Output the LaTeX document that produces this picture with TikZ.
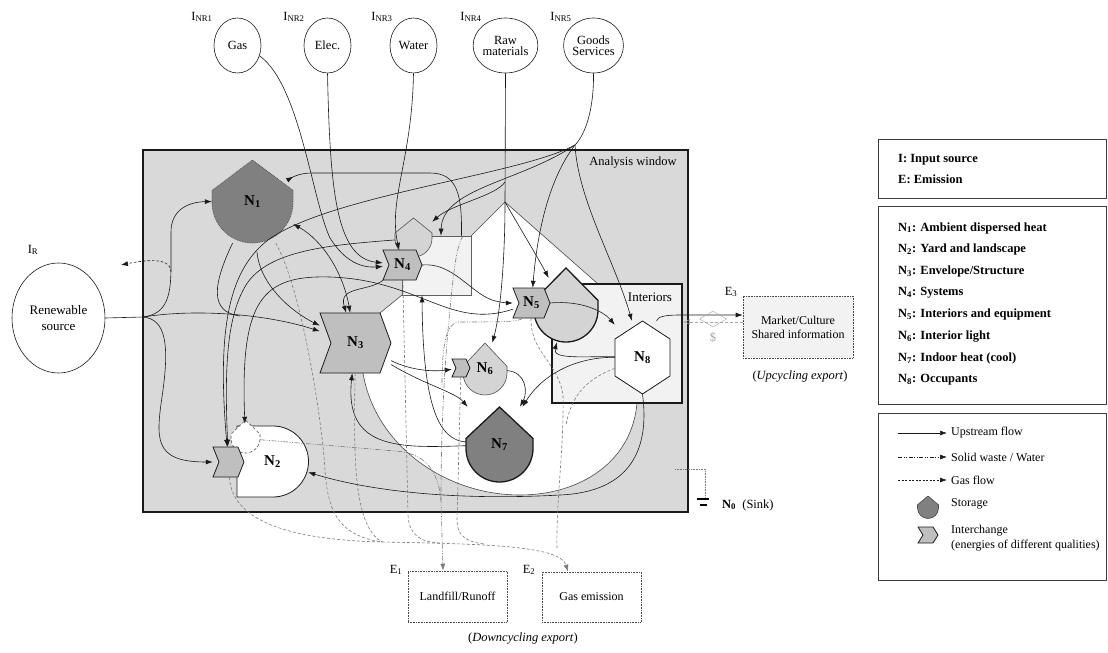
\documentclass[tikz,border=0pt]{standalone}
\usepackage{fontspec}
\setmainfont{Liberation Serif}
\usetikzlibrary{arrows.meta,shapes.geometric}
\definecolor{ink}{HTML}{1A1A1A}
\definecolor{windowfill}{HTML}{D9D9D9}
\definecolor{palefill}{HTML}{F2F2F2}
\definecolor{darkfill}{HTML}{808080}
\definecolor{chevfill}{HTML}{BFBFBF}
\definecolor{storefill}{HTML}{D4D4D4}
\definecolor{dashgray}{HTML}{7A7A7A}
\definecolor{cashgray}{HTML}{A6A6A6}
% storage: cx, cy (centre of the round bottom), radius, apex y
\newcommand{\storage}[5][]{%
  \draw[#1] (#2-#4,#3) -- (#2-#4,#3-0.3*#4) -- (#2,#5) -- (#2+#4,#3-0.3*#4) -- (#2+#4,#3)
    arc[start angle=0, end angle=180, radius=#4] -- cycle;}
% interchange: cx, cy, width, height, notch
\newcommand{\interchange}[6][]{%
  \draw[#1] (#2-#4/2,#3-#5/2) -- (#2+#4/2-#6,#3-#5/2) -- (#2+#4/2,#3) -- (#2+#4/2-#6,#3+#5/2)
    -- (#2-#4/2,#3+#5/2) -- (#2-#4/2+#6,#3) -- cycle;}
\tikzset{
  flow/.style={draw=ink, line width=0.6pt, -{Latex[length=7pt,width=5pt]}},
  twoway/.style={draw=ink, line width=0.6pt, {Latex[length=7pt,width=5pt]}-{Latex[length=7pt,width=5pt]}},
  link/.style={draw=ink, line width=0.6pt},
  gasout/.style={draw=ink, line width=0.6pt, dash pattern=on 2.5pt off 2pt, -{Latex[length=7pt,width=5pt]}},
  gasflow/.style={draw=dashgray, line width=0.6pt, dash pattern=on 3pt off 2pt},
  waste/.style={draw=dashgray, line width=0.6pt, dash pattern=on 5pt off 1.5pt on 1pt off 1.5pt on 1pt off 1.5pt},
  source/.style={ellipse, draw=ink, line width=0.6pt, fill=white, minimum width=47pt, minimum height=55pt, inner sep=0pt, align=center, font=\fontsize{12.5}{11}\selectfont},
  tag/.style={inner sep=0pt, font=\fontsize{12.5}{13}\selectfont},
  nlabel/.style={inner sep=0pt, font=\fontsize{15}{15}\selectfont\bfseries},
  lightstore/.style={fill=storefill, draw=ink!75, line width=0.6pt},
  chevron/.style={fill=chevfill, draw=ink, line width=0.8pt},
  exportbox/.style={draw=ink!80, densely dotted, line width=0.6pt, inner sep=0pt, align=center, font=\fontsize{12}{14}\selectfont},
  legendbox/.style={draw=ink!85, line width=0.7pt},
  legtext/.style={anchor=west, inner sep=0pt, font=\fontsize{12}{12}\selectfont},
  legbold/.style={legtext, font=\fontsize{12.5}{12.5}\selectfont\bfseries}
}

\begin{document}
\begin{tikzpicture}[x=1pt,y=-1pt]
\useasboundingbox (0,0) rectangle (1108,653);

% Analysis window
\draw[fill=windowfill, draw=ink, line width=1.2pt] (143,150) rectangle (688,512);
\node[tag] (awin) at (633,163) {Analysis window};
\coordinate (apex) at (505,202);
\draw[fill=white, draw=ink!80, line width=0.6pt] (380,313) -- (402,295) -- (471,295) -- (471,236) -- (apex) -- (598,284) -- (682,284) -- (682,403) -- (637,403)
  .. controls (632,462) and (580,495) .. (520,495) .. controls (445,495) and (375,445) .. (363,373) -- cycle;
\node[draw=ink!70, fill=palefill, line width=0.6pt, minimum width=69pt, minimum height=59pt, inner sep=0pt] (b4) at (436.5,265.5) {};
\node[draw=ink, fill=palefill, line width=2pt, minimum width=130pt, minimum height=119pt, inner sep=0pt] (ibox) at (617,343.5) {};
\node[tag, font=\fontsize{13}{13}\selectfont] (inter) at (650,297) {Interiors};

% Storages and interchanges
\storage[fill=darkfill, draw=ink!80, densely dotted, line width=0.7pt]{252.5}{202.5}{40.5}{160}
\draw[fill=white, draw=ink, line width=0.8pt] (237,426) -- (273,426) arc[start angle=-90, end angle=90, radius=35.5] -- (237,497) -- cycle;
\storage[fill=white, draw=ink!75, densely dashed, line width=0.6pt]{245.5}{438.5}{14.5}{420}
\interchange[chevron]{228.5}{462}{31}{30}{6}
\interchange[chevron]{355.5}{343}{71}{60}{11}
\storage[lightstore]{413.5}{238.5}{18.5}{218}
\interchange[chevron]{402.5}{265}{39}{30}{6}
\storage[fill=storefill, draw=ink, line width=1.3pt]{566}{310}{32}{268}
\interchange[chevron]{531.5}{303}{37}{30}{6}
\storage[lightstore]{485}{373}{22}{343}
\interchange[chevron]{461}{368}{18}{18}{4}
\storage[fill=darkfill, draw=ink, line width=1.3pt]{499.5}{448.5}{33.5}{407}
\draw[fill=white, draw=ink, line width=0.8pt] (642.5,321) -- (670,339) -- (670,376) -- (642.5,394) -- (615,376) -- (615,339) -- cycle;

\node[nlabel, minimum width=81pt, minimum height=83pt] (n1) at (252.5,201.5) {N\textsubscript{1}};
\node[nlabel, minimum width=71pt, minimum height=71pt] (n2) at (272.5,461.5) {N\textsubscript{2}};
\node[inner sep=0pt, minimum width=31pt, minimum height=30pt] (n2x) at (228.5,462) {};
\node[inner sep=0pt, minimum size=29pt] (s2) at (245.5,438.5) {};
\node[nlabel, minimum width=71pt, minimum height=60pt] (n3) at (355.5,343) {N\textsubscript{3}};
\node[nlabel, minimum width=39pt, minimum height=30pt] (n4) at (402.5,265) {N\textsubscript{4}};
\node[inner sep=0pt, minimum size=37pt] (s4) at (413.5,238.5) {};
\node[nlabel, minimum width=37pt, minimum height=30pt] (n5) at (531.5,303) {N\textsubscript{5}};
\node[inner sep=0pt, minimum size=64pt] (s5) at (566,310) {};
\node[nlabel, minimum width=44pt, minimum height=52pt] (n6) at (485,369) {N\textsubscript{6}};
\node[inner sep=0pt, minimum size=18pt] (n6x) at (461,368) {};
\node[nlabel, minimum width=67pt, minimum height=75pt] (n7) at (499.5,444.5) {N\textsubscript{7}};
\node[nlabel, minimum width=55pt, minimum height=73pt] (n8) at (642.5,357.5) {N\textsubscript{8}};

% Inputs
\node[source] (gas) at (237.5,45.5) {Gas};
\node[source] (elec) at (327.5,45.5) {Elec.};
\node[source] (water) at (413.5,45.5) {Water};
\node[source] (raw) at (505.5,45.5) {Raw\\materials};
\node[source] (goods) at (593.5,45.5) {Goods\\Services};
\node[tag] (inr1) at (202,17) {I\textsubscript{NR1}};
\node[tag] (inr2) at (294,17) {I\textsubscript{NR2}};
\node[tag] (inr3) at (382,17) {I\textsubscript{NR3}};
\node[tag] (inr4) at (471,17) {I\textsubscript{NR4}};
\node[tag] (inr5) at (561,17) {I\textsubscript{NR5}};
\node[source, minimum width=93pt, minimum height=110pt, font=\fontsize{13}{16}\selectfont] (rs) at (58.5,318) {Renewable\\source};
\node[tag] (ir) at (33,250) {I\textsubscript{R}};

% Exports
\node[exportbox, fill=palefill, minimum width=110pt, minimum height=62pt] (market) at (798,327) {Market/Culture\\Shared information};
\node[tag] (e3) at (731,292) {E\textsubscript{3}};
\node[tag] (upcyc) at (800,377) {(\textit{Upcycling export})};
\node[exportbox, fill=white, minimum width=99pt, minimum height=51pt] (landfill) at (457.5,596.5) {Landfill/Runoff};
\node[exportbox, fill=white, minimum width=99pt, minimum height=50pt] (gasem) at (591.5,597) {Gas emission};
\node[tag] (e1) at (396,570) {E\textsubscript{1}};
\node[tag] (e2) at (529,570) {E\textsubscript{2}};
\node[tag] (downcyc) at (523,639) {(\textit{Downcycling export})};

\coordinate (jr) at (143,317);
\coordinate (jr2) at (171,272);
\coordinate (irout) at (121,265);
\coordinate (m1) at (240,316);
\coordinate (jg) at (575,145);
\coordinate (gb) at (257,252);
\coordinate (r1) at (505,182);
\coordinate (ret) at (683,322);
\coordinate (gastrunk) at (382,542);
\coordinate (g4) at (440,543);
\coordinate (g6) at (485,544);
\coordinate (g5) at (557,548);
\coordinate (g8) at (566,425);
\coordinate (jwaste) at (441,500);
\coordinate (w3) at (442,385);

% Renewable flows
\draw[link] (rs.east) -- (jr);
\draw[flow] (jr) .. controls (167,314) and (171,296) .. (171,266) -- (171,232) .. controls (171,210) and (188,202) .. (n1.west);
\draw[flow] (jr) .. controls (166,319) and (169,345) .. (163,390) .. controls (156,438) and (152,462) .. ([shift={(-11,0)}]n2x);
\draw[flow] (jr) .. controls (200,308) and (270,315) .. ([shift={(-26,-3)}]n3);
\draw[gasout] (jr2) .. controls (171,262) and (160,257) .. (irout);
\draw[link] ([shift={(-22,34)}]n1) .. controls (214,282) and (208,312) .. (m1);
\draw[twoway] ([shift={(38,15)}]n1) .. controls (322,240) and (343,272) .. ([shift={(-12.5,-30)}]n3);

% Non-renewable flows
\draw[flow] (gas.-25) .. controls (300,85) and (312,200) .. (330,238) .. controls (345,262) and (362,268) .. ([shift={(-15,3)}]n4);
\draw[flow] (elec.south) .. controls (330,190) and (336,258) .. ([shift={(-16,-6)}]n4);
\draw[flow] (water.south) .. controls (412,160) and (388,200) .. ([shift={(-14,-15)}]n4);
\draw[link] (raw.south) -- (apex);
\draw[flow] (apex) .. controls (505,262) and (500,315) .. ([shift={(13,-13)}]n6);
\draw[flow] (r1) .. controls (496,196) and (452,204) .. ([shift={(12,-11)}]s4);
\draw[flow] (apex) .. controls (520,228) and (538,258) .. ([shift={(-13,-29)}]s5);
\draw[link] (goods.south) .. controls (594,110) and (585,135) .. (jg);
\draw[flow] (jg) .. controls (520,175) and (330,195) .. (268,240) .. controls (232,268) and (216,320) .. ([shift={(-12.5,-15)}]n2x);
\draw[flow] (gb) .. controls (260,285) and (292,312) .. ([shift={(-30.5,-14)}]n3);
\draw[flow] (jg) .. controls (520,182) and (442,188) .. ([shift={(4.5,0)}]b4.north);
\draw[flow] (jg) .. controls (548,180) and (537,235) .. ([shift={(5,-15)}]n5);
\draw[flow] (jg) .. controls (578,200) and (615,262) .. ([shift={(-8.5,-31)}]n8);

% Internal flows
\draw[flow] ([shift={(-18.5,0)}]s4) .. controls (330,245) and (268,250) .. (246,285) .. controls (228,315) and (224,360) .. ([shift={(-4.5,-15)}]n2x);
\draw[flow] ([shift={(-14,9)}]n5) .. controls (450,330) and (420,280) .. (330,277) .. controls (262,275) and (240,300) .. ([shift={(-6.5,-13.5)}]s2);
\draw[flow] ([shift={(25,0)}]b4.north) .. controls (462,196) and (458,173) .. (430,173) -- (312,173) .. controls (298,173) and (291,178) .. ([shift={(32,-18)}]n1);
\draw[flow] ([shift={(-12,12)}]n4) .. controls (368,292) and (338,286) .. ([shift={(-20,-30)}]n3);
\draw[flow] (n4.east) .. controls (452,262) and (470,292) .. (492,300) .. controls (502,303) and (510,303) .. ([shift={(-12.5,0)}]n5);
\draw[flow] (n5.east) .. controls (582,300) and (604,312) .. ([shift={(-27,-18)}]n8);
\draw[flow] ([shift={(32,10)}]n3) .. controls (410,370) and (432,372) .. ([shift={(-5,0)}]n6x);
\draw[flow] ([shift={(30,16)}]n3) .. controls (425,385) and (455,392) .. ([shift={(-22,-15)}]n7);
\draw[flow] ([shift={(22,3)}]n6) .. controls (526,372) and (528,392) .. ([shift={(13,-25)}]n7);
\draw[flow] ([shift={(-27.5,4)}]n8) .. controls (575,357) and (542,375) .. ([shift={(21,-19)}]n7);
\draw[flow] ([shift={(-27.5,1)}]n8) .. controls (585,356) and (552,360) .. ([shift={(-25,19)}]s5);
\draw[flow] ([shift={(-33,-3)}]n7) .. controls (440,440) and (423,410) .. ([shift={(-14.5,0)}]b4.south);
\draw[flow] ([shift={(-33,2)}]n7) .. controls (400,448) and (344,450) .. ([shift={(-12.5,30)}]n3);
\draw[flow] (n8.south) .. controls (650,450) and (630,492) .. (560,495) .. controls (470,500) and (380,494) .. ([shift={(29,21)}]n2);

% Upcycling export
\draw[flow] ([shift={(14,-27)}]n8) .. controls (658,317) and (663,315) .. (680,315) -- ([shift={(0,-12)}]market.west);
\draw[gasflow, draw=cashgray, -{Latex[open,length=7pt,width=6pt]}] ([shift={(0,-5)}]market.west) -- (ret);
\node[diamond, draw=cashgray, minimum width=27pt, minimum height=16pt, inner sep=0pt] (cash) at (713,319) {};
\node[tag, text=cashgray] (dollar) at (713,337) {\$};

% Gas flows
\draw[gasflow, -{Latex[length=7pt,width=5pt]}] ([shift={(-5.5,15)}]n2x) .. controls (232,525) and (300,540) .. (gastrunk) .. controls (480,544) and (560,545) .. ([shift={(-23.5,0)}]gasem.north);
\draw[gasflow] ([shift={(28.5,29.5)}]n1) .. controls (302,290) and (322,420) .. (325,470) .. controls (328,520) and (345,536) .. (gastrunk);
\draw[gasflow] ([shift={(-3,30)}]n3) .. controls (354,450) and (352,525) .. (gastrunk);
\draw[gasflow] ([shift={(5.5,15)}]n4) -- (408,515) .. controls (409,535) and (420,542) .. (g4);
\draw[gasflow] ([shift={(-4,9)}]n6x) -- (457,520) .. controls (457,535) and (465,542) .. (g6);
\draw[gasflow] ([shift={(-3,15)}]n5) .. controls (530,352) and (558,362) .. (563,395) .. controls (564,450) and (556,500) .. (g5);
\draw[gasflow] ([shift={(-27.5,14)}]n8) .. controls (590,378) and (572,392) .. (g8);

% Solid waste / water
\draw[waste, -{Latex[length=7pt,width=5pt]}] ([shift={(-3,-22)}]b4) .. controls (455,245) and (452,290) .. (448,330) .. controls (442,400) and (441,460) .. (jwaste) -- ([shift={(-14.5,0)}]landfill.north);
\draw[waste] ([shift={(12.5,10.5)}]s2) -- (395,451) .. controls (425,453) and (438,470) .. (jwaste);
\draw[waste] ([shift={(-7,15)}]n5) .. controls (520,322) and (500,322) .. (458,322) .. controls (446,324) and (442,345) .. (w3);

% Sink
\coordinate (sinkin) at (675,469);
\draw[densely dotted, draw=dashgray, line width=0.6pt] (sinkin) -- (705,469) -- (705,497);
\draw[line width=1.6pt] (697,499) -- (709,499);
\draw[line width=1.6pt] (700,505) -- (707,505);
\node[tag, anchor=west] (n0) at (722,505) {\textbf{N\textsubscript{0}}\ \ (Sink)};

% Legend
\draw[legendbox] (878,139) rectangle (1106,198);
\node[legbold] (li) at (898,160) {I: Input source};
\node[legbold] (le) at (898,179) {E: Emission};
\draw[legendbox] (878,206) rectangle (1106,404);
\foreach \k/\txt in {1/{Ambient dispersed heat}, 2/{Yard and landscape}, 3/{Envelope/Structure}, 4/{Systems},
    5/{Interiors and equipment}, 6/{Interior light}, 7/{Indoor heat (cool)}, 8/{Occupants}}
  \node[legbold] (legn\k) at (898,{228+21.7*(\k-1)}) {N\textsubscript{\k}: \txt};
\draw[legendbox] (878,413) rectangle (1106,580);
\draw[flow] (898,433) -- (947,433);
\node[legtext] (lup) at (951,433) {Upstream flow};
\draw[draw=ink, line width=0.6pt, dash pattern=on 4pt off 1.5pt on 1pt off 1.5pt on 1pt off 1.5pt, -{Latex[length=7pt,width=5pt]}] (898,457) -- (947,457);
\node[legtext] (lwaste) at (951,457) {Solid waste / Water};
\draw[draw=ink, line width=0.6pt, dash pattern=on 2pt off 1.5pt, -{Latex[length=7pt,width=5pt]}] (898,480) -- (947,480);
\node[legtext] (lgas) at (951,480) {Gas flow};
\storage[fill=darkfill, draw=ink!80, line width=0.6pt]{928}{508}{10.5}{496}
\node[legtext] (lstore) at (951,504) {Storage};
\interchange[chevron]{928}{535}{20}{16}{5}
\node[legtext] (lchange) at (951,531) {Interchange};
\node[legtext] (lchange2) at (951,546) {(energies of different qualities)};
\end{tikzpicture}
\end{document}
